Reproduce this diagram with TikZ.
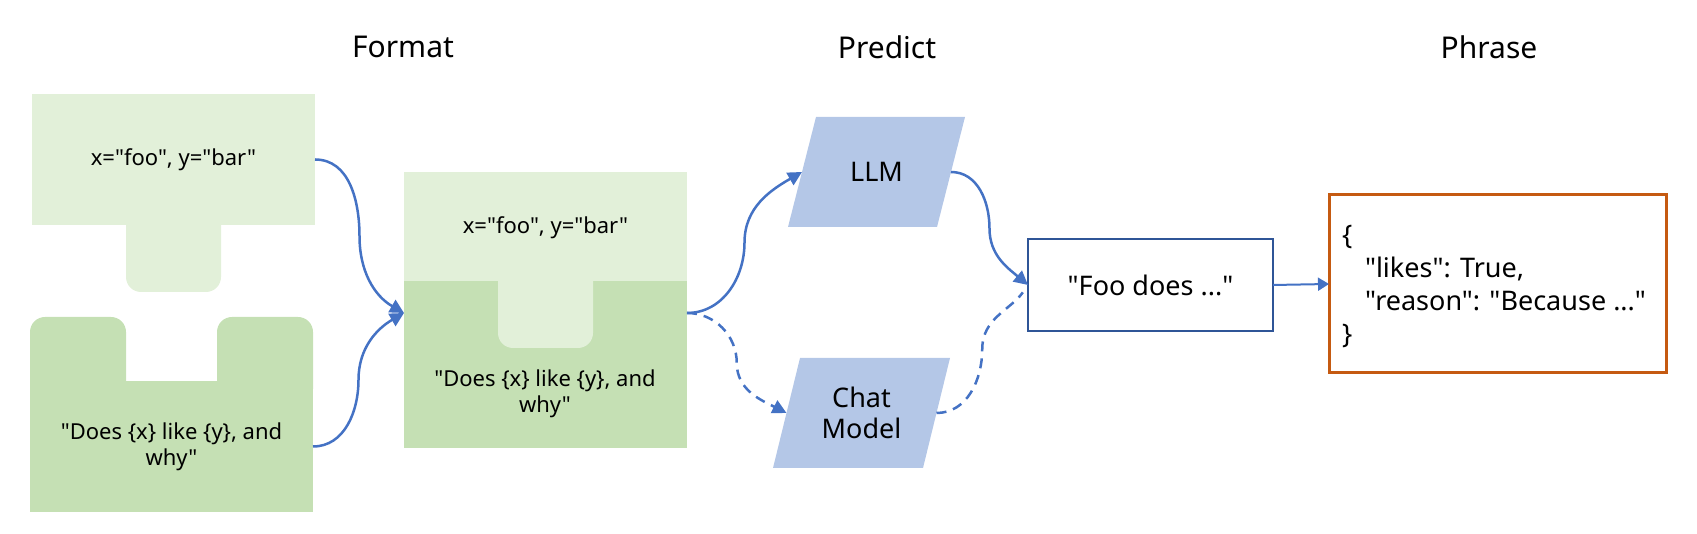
\documentclass[tikz,border=0pt]{standalone}
\usepackage{fontspec}
\setmainfont{Noto Sans}[Ligatures=TeXOff]
\usetikzlibrary{arrows.meta,calc,backgrounds}
\definecolor{lightg}{HTML}{E2F0D9}
\definecolor{darkg}{HTML}{C5E0B4}
\definecolor{paraf}{HTML}{B4C7E7}
\definecolor{arr}{HTML}{4472C4}
\definecolor{fooc}{HTML}{2F5597}
\definecolor{jsonc}{HTML}{C55A11}
\begin{document}
\begin{tikzpicture}[x=1pt,y=1pt,
  every node/.style={inner sep=0pt, outer sep=0pt},
  title/.style={font=\fontsize{30}{36}\selectfont},
  boxtext/.style={font=\fontsize{22}{26}\selectfont, align=center},
  bigtext/.style={font=\fontsize{27}{31}\selectfont, align=center},
  conn/.style={draw=arr, line width=2.5pt, -{Triangle[length=14pt,width=14pt]}},
  dconn/.style={conn, dash pattern=on 10pt off 7pt},
]
\useasboundingbox (0,0) rectangle (1697,534);
% titles
\node[title] (t1) at (403,487) {Format};
\node[title] (t2) at (887,487) {Predict};
\node[title] (t3) at (1489,487) {Phrase};
% input boxes
\node[boxtext, fill=lightg, minimum width=283pt, minimum height=131pt] (vars) at (173.5,374.5) {x="foo", y="bar"};
\node[boxtext, fill=darkg, minimum width=283pt, minimum height=131pt] (tmpl) at (171.5,87.5) {"Does \{x\} like \{y\}, and\\why"};
% combined prompt
\node[minimum width=283pt, minimum height=276pt] (prompt) at (545.5,224) {};
\node[boxtext] (pvars) at (545.5,306) {x="foo", y="bar"};
\node[boxtext] (ptmpl) at (545,140.5) {"Does \{x\} like \{y\}, and\\why"};
% models
\node[bigtext, minimum width=149pt, minimum height=110pt] (llm) at (876.5,362) {LLM};
\node[bigtext, minimum width=150pt, minimum height=110pt] (chat) at (861.5,121) {Chat\\Model};
% output
\node[bigtext, draw=fooc, line width=2.8pt, minimum width=245pt, minimum height=92pt] (foo) at (1150.5,249) {"Foo does ..."};
\node[draw=jsonc, line width=3pt, minimum width=337pt, minimum height=178pt] (json) at (1497.5,250) {};
\node[anchor=west, align=left, font=\fontsize{27}{33}\selectfont] (jtext) at (1342,247)
  {\{\\\hspace*{23pt}"likes": True,\\\hspace*{23pt}"reason": "Because ..."\\\}};
\begin{scope}[on background layer]
  \fill[lightg, rounded corners=15pt] (126,330) rectangle (221,242);
  \fill[darkg, rounded corners=15pt] (30,130) rectangle (126,217);
  \fill[darkg, rounded corners=15pt] (217,130) rectangle (313,217);
  \fill[darkg] (prompt.south west) rectangle ($(prompt.south east)+(0,167)$);
  \fill[lightg] ($(prompt.south west)+(0,167)$) rectangle (prompt.north east);
  \fill[lightg, rounded corners=15pt] (498,270) rectangle (593,186);
  \fill[paraf] ($(llm.north west)+(14,0)$) -- ($(llm.north east)+(14,0)$) -- ($(llm.south east)+(-14,0)$) -- ($(llm.south west)+(-14,0)$) -- cycle;
  \fill[paraf] ($(chat.north west)+(13.5,0)$) -- ($(chat.north east)+(13.5,0)$) -- ($(chat.south east)+(-13.5,0)$) -- ($(chat.south west)+(-13.5,0)$) -- cycle;
\end{scope}
% connectors
\draw[conn] (vars.east) to[out=0,in=90] ($(vars.east)!0.5!([yshift=-3pt]prompt.west)$) to[out=-90,in=150] ([yshift=-3pt]prompt.west);
\draw[conn] (tmpl.east) to[out=0,in=-90] ($(tmpl.east)!0.5!([yshift=-3pt]prompt.west)$) to[out=90,in=-150] ([yshift=-3pt]prompt.west);
\draw[conn] ([yshift=-3pt]prompt.east) to[out=0,in=-90] ($([yshift=-3pt]prompt.east)!0.5!(llm.west)$) to[out=90,in=210] (llm.west);
\draw[dconn] ([yshift=-3pt]prompt.east) to[out=0,in=90] ($([yshift=-3pt]prompt.east)!0.5!(chat.west)$) to[out=-90,in=153] (chat.west);
\draw[conn] (llm.east) to[out=0,in=90] ($(llm.east)!0.5!(foo.west)$) to[out=-90,in=140] (foo.west);
\draw[draw=arr, line width=2.5pt, dash pattern=on 10pt off 7pt, shorten >=9pt] (chat.east) to[out=0,in=-90] ($(chat.east)!0.5!(foo.west)$) to[out=90,in=-125] (foo.west);
\draw[draw=arr, line width=2pt, -{Triangle[length=11pt,width=13pt]}] (foo.east) -- (json.west);
\end{tikzpicture}
\end{document}
